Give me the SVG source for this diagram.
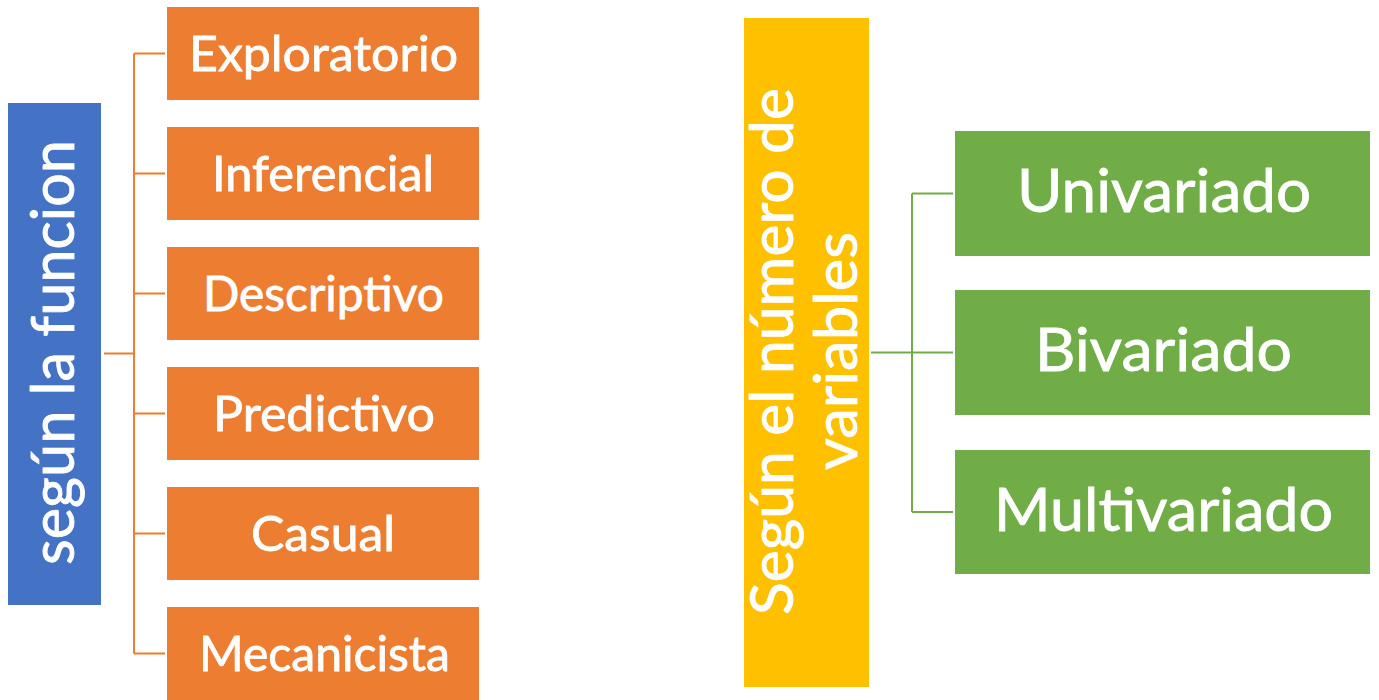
<svg xmlns="http://www.w3.org/2000/svg" width="1379" height="700" viewBox="0 0 1379 700">
<style>
.t{font-family:Lato,"Open Sans","Liberation Sans",sans-serif;fill:#fff;stroke:#fff;stroke-width:0.8;text-anchor:middle}
.o{fill:#ED7D31}
.g{fill:#70AD47}
.co{fill:none;stroke:#ED7D31;stroke-width:2}
.cg{fill:none;stroke:#70AD47;stroke-width:2}
</style>
<rect width="1379" height="700" fill="#fff"/>
<g id="connectors">
<path class="co" d="M104 353.5H134M134 53.5V653.5M134 53.5H165M134 173.5H165M134 293.5H165M134 413.5H165M134 533.5H165M134 653.5H165"/>
<path class="cg" d="M871 352.5H953M912 193.5V512M912 193.5H953M912 512H953"/>
</g>
<g id="n-funcion">
<rect x="8" y="103" width="93" height="502" fill="#4472C4"/>
<text class="t" font-size="60" transform="translate(74,352.5) rotate(-90)" textLength="425" lengthAdjust="spacingAndGlyphs">según la funcion</text>
</g>
<g id="n-exploratorio"><rect class="o" x="167" y="7" width="312" height="93"/><text class="t" x="323.5" y="70.5" font-size="48" textLength="269" lengthAdjust="spacingAndGlyphs">Exploratorio</text></g>
<g id="n-inferencial"><rect class="o" x="167" y="127" width="312" height="93"/><text class="t" x="323" y="190.5" font-size="48" textLength="222" lengthAdjust="spacingAndGlyphs">Inferencial</text></g>
<g id="n-descriptivo"><rect class="o" x="167" y="247" width="312" height="93"/><text class="t" x="323.5" y="310.5" font-size="48" textLength="241" lengthAdjust="spacingAndGlyphs">Descriptivo</text></g>
<g id="n-predictivo"><rect class="o" x="167" y="367" width="312" height="93"/><text class="t" x="324" y="430.5" font-size="48" textLength="222" lengthAdjust="spacingAndGlyphs">Predictivo</text></g>
<g id="n-casual"><rect class="o" x="167" y="487" width="312" height="93"/><text class="t" x="323" y="550.5" font-size="48" textLength="144" lengthAdjust="spacingAndGlyphs">Casual</text></g>
<g id="n-mecanicista"><rect class="o" x="167" y="607" width="312" height="93"/><text class="t" x="324.5" y="670.5" font-size="48" textLength="251" lengthAdjust="spacingAndGlyphs">Mecanicista</text></g>
<g id="n-variables">
<rect x="744" y="18" width="125" height="669" fill="#FFC000"/>
<text class="t" font-size="60" transform="translate(793,351.5) rotate(-90)" textLength="527" lengthAdjust="spacingAndGlyphs">Según el número de</text>
<text class="t" font-size="60" transform="translate(857,351) rotate(-90)" textLength="238" lengthAdjust="spacingAndGlyphs">variables</text>
</g>
<g id="n-univariado"><rect class="g" x="955" y="131" width="415" height="125"/><text class="t" x="1164" y="212" font-size="60" textLength="294" lengthAdjust="spacingAndGlyphs">Univariado</text></g>
<g id="n-bivariado"><rect class="g" x="955" y="290" width="415" height="125"/><text class="t" x="1163.5" y="371" font-size="60" textLength="257" lengthAdjust="spacingAndGlyphs">Bivariado</text></g>
<g id="n-multivariado"><rect class="g" x="955" y="450" width="415" height="124"/><text class="t" x="1163.5" y="531" font-size="60" textLength="339" lengthAdjust="spacingAndGlyphs">Multivariado</text></g>
</svg>
